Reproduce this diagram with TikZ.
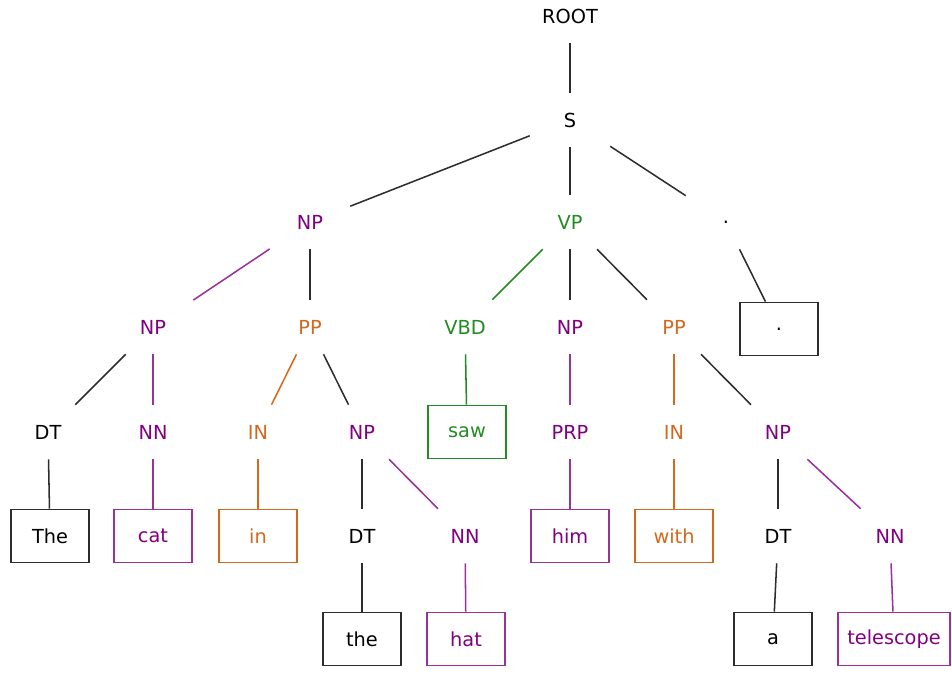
\documentclass[tikz,border=0pt]{standalone}
\usepackage{fontspec}
\setmainfont{DejaVu Sans}
\definecolor{tpurple}{RGB}{128,0,128}
\definecolor{tgreen}{RGB}{34,139,34}
\definecolor{torange}{RGB}{210,105,30}
\definecolor{tline}{RGB}{45,45,45}
\begin{document}
\begin{tikzpicture}[x=0.75pt,y=-0.75pt,
  lbl/.style={rectangle, minimum width=60pt, minimum height=40.5pt, inner sep=0pt,
    font=\fontsize{14.5}{17}\selectfont, text=black},
  wbox/.style={lbl, draw=tline, line width=1.4pt, minimum width=58.5pt, minimum height=39.75pt},
  pur/.style={text=tpurple},
  grn/.style={text=tgreen},
  org/.style={text=torange},
  pbox/.style={wbox, draw=tpurple!80!white, text=tpurple},
  gbox/.style={wbox, draw=tgreen, text=tgreen},
  obox/.style={wbox, draw=torange, text=torange},
  eb/.style={draw=tline, line width=1.15pt},
  ep/.style={draw=tpurple!80!white, line width=1.15pt},
  eg/.style={draw=tgreen, line width=1.15pt},
  eo/.style={draw=torange, line width=1.15pt}]
\useasboundingbox (0,0) rectangle (952,673);

% phrase labels
\node[lbl] (root) at (570,16) {ROOT};
\node[lbl] (s) at (570,120) {S};
\node[lbl,pur] (np1) at (310,222) {NP};
\node[lbl,grn] (vp) at (570,222) {VP};
\node[lbl] (dot) at (726,222) {.};
\node[lbl,pur] (np2) at (153,327) {NP};
\node[lbl,org] (pp1) at (310,327) {PP};
\node[lbl,grn] (vbd) at (465,327) {VBD};
\node[lbl,pur] (np3) at (570,327) {NP};
\node[lbl,org] (pp2) at (674,327) {PP};
\node[wbox] (wdot) at (779,329) {.};
\node[lbl] (dt1) at (48,432) {DT};
\node[lbl,pur] (nn1) at (153,432) {NN};
\node[lbl,org] (in1) at (258,432) {IN};
\node[lbl,pur] (np4) at (362,432) {NP};
\node[gbox] (wsaw) at (467,432) {saw};
\node[lbl,pur] (prp) at (570,432) {PRP};
\node[lbl,org] (in2) at (674,432) {IN};
\node[lbl,pur] (np5) at (778,432) {NP};
\node[lbl] (dt2) at (362,536) {DT};
\node[lbl,pur] (nn2) at (465,536) {NN};
\node[lbl] (dt3) at (778,536) {DT};
\node[lbl,pur] (nn3) at (890,536) {NN};

% words
\node[wbox] (wthe1) at (50,536) {The};
\node[pbox] (wcat) at (153,536) {cat};
\node[obox] (win) at (258,536) {in};
\node[pbox] (whim) at (570,536) {him};
\node[obox] (wwith) at (674,536) {with};
\node[wbox] (wthe2) at (362,639) {the};
\node[pbox] (what) at (466,639) {hat};
\node[wbox] (wa) at (773,639) {a};
\node[pbox, minimum width=84pt] (wtel) at (894,639) {telescope};

% branches
\draw[eb] (root) -- (s);
\draw[eb] (s) -- (np1);
\draw[eb] (s) -- (vp);
\draw[eb] (s) -- (dot);
\draw[ep] (np1) -- (np2);
\draw[eb] (np1) -- (pp1);
\draw[eg] (vp) -- (vbd);
\draw[eb] (vp) -- (np3);
\draw[eb] (vp) -- (pp2);
\draw[eb] (dot) -- (wdot);
\draw[eb] (np2) -- (dt1);
\draw[ep] (np2) -- (nn1);
\draw[eo] (pp1) -- (in1);
\draw[eb] (pp1) -- (np4);
\draw[eg] (vbd) -- (wsaw);
\draw[ep] (np3) -- (prp);
\draw[eo] (pp2) -- (in2);
\draw[eb] (pp2) -- (np5);
\draw[eb] (dt1) -- (wthe1);
\draw[ep] (nn1) -- (wcat);
\draw[eo] (in1) -- (win);
\draw[eb] (np4) -- (dt2);
\draw[ep] (np4) -- (nn2);
\draw[ep] (prp) -- (whim);
\draw[eo] (in2) -- (wwith);
\draw[eb] (np5) -- (dt3);
\draw[ep] (np5) -- (nn3);
\draw[eb] (dt2) -- (wthe2);
\draw[ep] (nn2) -- (what);
\draw[eb] (dt3) -- (wa);
\draw[ep] (nn3) -- (wtel);
\end{tikzpicture}
\end{document}
